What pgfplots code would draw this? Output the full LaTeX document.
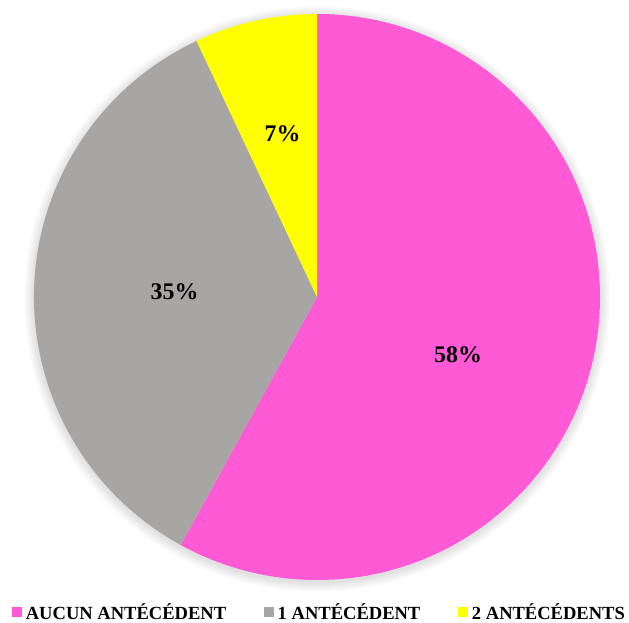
\documentclass[border=0pt]{standalone}
\usepackage{pgfplots}
\pgfplotsset{compat=1.18}
\usepackage{fontspec}
\setmainfont{Liberation Serif}
\definecolor{piepink}{RGB}{255,90,214}
\definecolor{piegray}{RGB}{168,165,165}
\definecolor{pieyellow}{RGB}{255,255,0}
\begin{document}
\begin{tikzpicture}
\def\R{212.25pt}
\begin{axis}[
  scale only axis, width=471.75pt, height=467.25pt,
  xmin=0, xmax=629, ymin=0, ymax=623,
  hide axis, clip=false,
  legend columns=3,
  legend style={at={(axis cs:12,-1)}, anchor=south west, draw=none, fill=none,
    font=\bfseries\fontsize{13.9}{13.9}\selectfont, inner sep=0pt,
    /tikz/every odd column/.append style={column sep=1pt},
    /tikz/every even column/.append style={column sep=26.5pt}},
  legend image code/.code={\fill[#1,draw=none] (0pt,-3.6pt) rectangle (7.2pt,3.6pt);},
]
% soft shadow
\pgfplotsinvokeforeach{1,...,10}{
  \fill[black, opacity=0.012] (axis cs:317,324) circle[radius=\R+#1*0.75pt];
}
% values (percent): 58, 35, 7 -- clockwise from 12 o'clock
\fill[piepink] (axis cs:317,326) -- ++(90:\R) arc[start angle=90, delta angle=-58*3.6, radius=\R] -- cycle;
\fill[piegray] (axis cs:317,326) -- ++(90-58*3.6:\R) arc[start angle=90-58*3.6, delta angle=-35*3.6, radius=\R] -- cycle;
\fill[pieyellow] (axis cs:317,326) -- ++(90-93*3.6:\R) arc[start angle=90-93*3.6, delta angle=-7*3.6, radius=\R] -- cycle;
\node[font=\bfseries\fontsize{17.9}{17.9}\selectfont] at (axis cs:458,268) {58\%};
\node[font=\bfseries\fontsize{17.9}{17.9}\selectfont] at (axis cs:174.5,331) {35\%};
\node[font=\bfseries\fontsize{17.9}{17.9}\selectfont] at (axis cs:282.5,489.5) {7\%};
\addlegendimage{draw=none, fill=piepink}
\addlegendentry{AUCUN ANTÉCÉDENT}
\addlegendimage{draw=none, fill=piegray}
\addlegendentry{1 ANTÉCÉDENT}
\addlegendimage{draw=none, fill=pieyellow}
\addlegendentry{2 ANTÉCÉDENTS}
\end{axis}
\pgfresetboundingbox
\path (0,0) rectangle (471.75pt,467.25pt);
\end{tikzpicture}
\end{document}
